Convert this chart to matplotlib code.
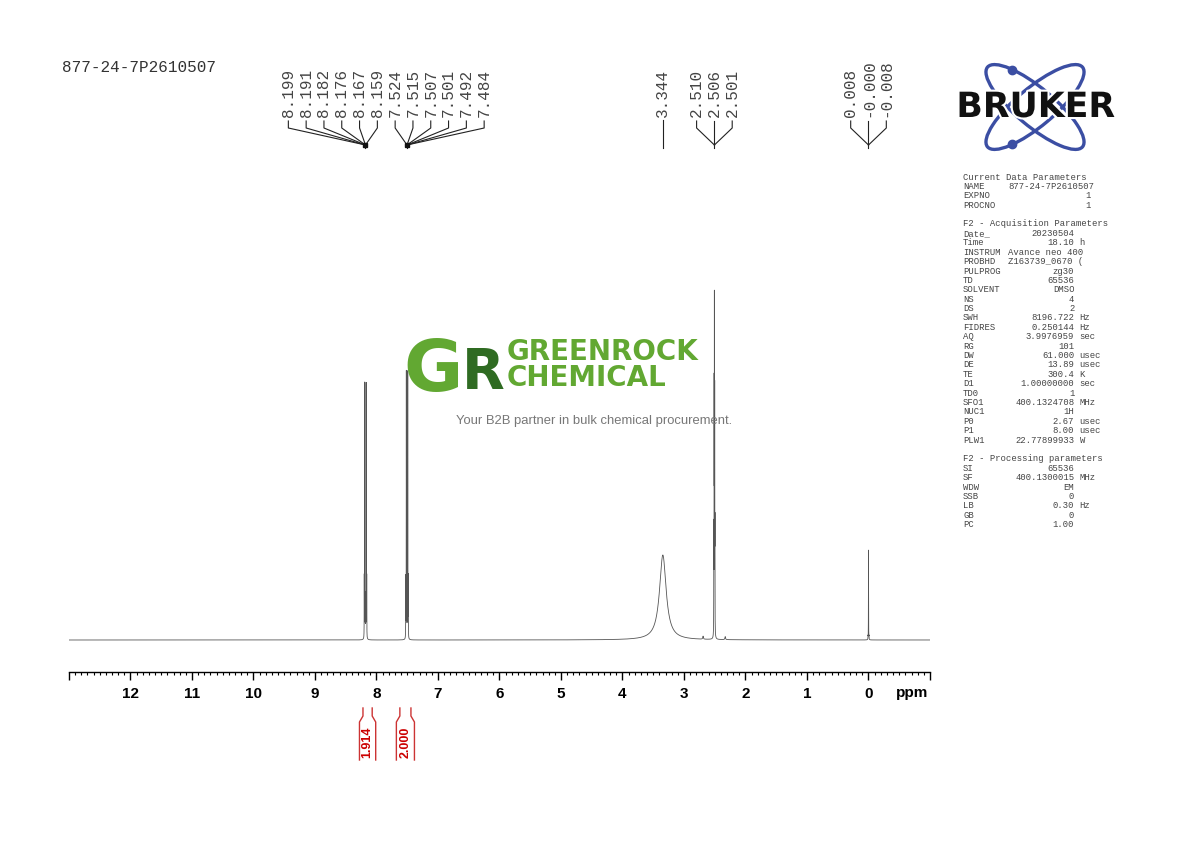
import numpy as np
import matplotlib.pyplot as plt
from matplotlib.patches import Ellipse
from matplotlib.ticker import MultipleLocator, FuncFormatter
from matplotlib.transforms import blended_transform_factory
import matplotlib.patheffects as pe

# peak list: position (ppm), height (px above baseline), half width (ppm)
peak_ppm = [8.199, 8.191, 8.182, 8.176, 8.167, 8.159,
            7.524, 7.515, 7.507, 7.501, 7.492, 7.484,
            3.344, 2.690, 2.330,
            2.515, 2.510, 2.506, 2.501, 2.497,
            0.008, 0.000, -0.008]
peak_height = [60, 255, 40, 40, 255, 60,
               60, 267, 40, 40, 267, 60,
               85, 3, 3,
               100, 230, 315, 230, 100,
               3, 90, 3]
peak_width = [0.0012] * 12 + [0.065, 0.006, 0.006] + [0.0012] * 5 + [0.0012] * 3

# peak labels, grouped by label cluster and multiplet
label_clusters = [
    [[8.199, 8.191, 8.182, 8.176, 8.167, 8.159],
     [7.524, 7.515, 7.507, 7.501, 7.492, 7.484]],
    [[3.344]],
    [[2.510, 2.506, 2.501]],
    [[0.008, -0.0, -0.008]],
]

integral_ranges = [(8.22, 8.07), (7.62, 7.44)]
integral_values = [1.914, 2.000]

title = "877-24-7P2610507"

params = [
    ("head", "Current Data Parameters"),
    ("NAME", "877-24-7P2610507", None),
    ("EXPNO", "1", None),
    ("PROCNO", "1", None),
    ("blank",),
    ("head", "F2 - Acquisition Parameters"),
    ("Date_", "20230504", ""),
    ("Time", "18.10", "h"),
    ("INSTRUM", "Avance neo 400", None),
    ("PROBHD", "Z163739_0670 (", None),
    ("PULPROG", "zg30", ""),
    ("TD", "65536", ""),
    ("SOLVENT", "DMSO", ""),
    ("NS", "4", ""),
    ("DS", "2", ""),
    ("SWH", "8196.722", "Hz"),
    ("FIDRES", "0.250144", "Hz"),
    ("AQ", "3.9976959", "sec"),
    ("RG", "101", ""),
    ("DW", "61.000", "usec"),
    ("DE", "13.89", "usec"),
    ("TE", "300.4", "K"),
    ("D1", "1.00000000", "sec"),
    ("TD0", "1", ""),
    ("SFO1", "400.1324708", "MHz"),
    ("NUC1", "1H", ""),
    ("P0", "2.67", "usec"),
    ("P1", "8.00", "usec"),
    ("PLW1", "22.77899933", "W"),
    ("blank",),
    ("head", "F2 - Processing parameters"),
    ("SI", "65536", ""),
    ("SF", "400.1300015", "MHz"),
    ("WDW", "EM", ""),
    ("SSB", "0", ""),
    ("LB", "0.30", "Hz"),
    ("GB", "0", ""),
    ("PC", "1.00", ""),
]

W, H = 1190, 842


def fy(ypix):
    return 1 - ypix / H


fig = plt.figure(figsize=(W / 100, H / 100), dpi=100)
ax = fig.add_axes([69 / W, fy(672), (930 - 69) / W, (672 - 60) / H])
ax.set_xlim(13, -1)
ax.set_ylim(-32, 580)
ppm_per_px = 14 / (930 - 69)

# spectrum
x = np.linspace(13, -1, 90001)
y = np.zeros_like(x)
for p, h, w in zip(peak_ppm, peak_height, peak_width):
    y += h / (1 + ((x - p) / w) ** 2)
ax.plot(x, y, color='#555555', lw=0.6)

for s in ['top', 'left', 'right']:
    ax.spines[s].set_visible(False)
ax.spines['bottom'].set_linewidth(1.0)
ax.set_yticks([])
ax.xaxis.set_major_locator(MultipleLocator(1))
ax.xaxis.set_minor_locator(MultipleLocator(0.1))
ax.xaxis.set_major_formatter(FuncFormatter(
    lambda v, _: '' if (v > 12.5 or v < -0.5) else f"{v:.0f}"))
ax.tick_params(axis='x', which='major', length=6, width=1, pad=5,
               labelsize=11)
ax.tick_params(axis='x', which='minor', length=2.2, width=0.8)
for lab in ax.get_xticklabels():
    lab.set_fontweight('bold')
    lab.set_fontfamily('Liberation Sans')
fig.text(912 / W, fy(693), "ppm", ha='center', va='center', fontsize=11,
         fontweight='bold', family='Liberation Sans')

# peak label trees
tr = blended_transform_factory(ax.transData, fig.transFigure)
spacing = 17.8 * ppm_per_px
for cluster in label_clusters:
    vals = [v for m in cluster for v in m]
    centre = np.mean([np.mean(m) for m in cluster])
    n = len(vals)
    xs = [centre + (n - 1) / 2 * spacing - i * spacing for i in range(n)]
    k = 0
    for m in cluster:
        jx = np.mean(m)
        for v in m:
            lx = xs[k]
            k += 1
            ax.text(lx, fy(117), f"{v:.3f}", transform=tr, rotation=90,
                    ha='center', va='bottom', fontsize=11.5,
                    family='Liberation Mono', color='#444444')
            if len(m) == 1:
                ax.plot([lx, lx], [fy(120), fy(148)], transform=tr,
                        color='#222222', lw=0.8, clip_on=False)
            else:
                ax.plot([lx, lx, jx], [fy(121), fy(128), fy(145)],
                        transform=tr, color='#222222', lw=0.8, clip_on=False)
        if len(m) > 1:
            ax.plot([jx, jx], [fy(145), fy(148)], transform=tr,
                    color='#222222', lw=0.8, clip_on=False)
        if len(m) > 4:
            ax.plot([jx], [fy(145)], transform=tr, marker='s', ms=3,
                    color='#111111', clip_on=False)

# integrals
fl = 3.5 * ppm_per_px
for (a, b), val in zip(integral_ranges, integral_values):
    ax.plot([a, a, a + fl, a + fl], [fy(708), fy(716), fy(722), fy(760)],
            transform=tr, color='#cc3333', lw=1, clip_on=False)
    ax.plot([b, b, b - fl, b - fl], [fy(708), fy(716), fy(722), fy(760)],
            transform=tr, color='#cc3333', lw=1, clip_on=False)
    ax.text((a + b) / 2, fy(742), f"{val:.3f}", transform=tr, rotation=90,
            ha='center', va='center', fontsize=9, fontweight='bold',
            family='Liberation Sans', color='#cc0000')

# title
fig.text(62 / W, fy(68), title, ha='left', va='center', fontsize=11.5,
         family='Liberation Mono', color='#333333')

# parameter block
ypix = 177
cw = 5.3
pkw = dict(va='center', fontsize=6.4, family='Liberation Mono',
           color='#444444')
for row in params:
    if row[0] == "blank":
        pass
    elif row[0] == "head":
        fig.text(963 / W, fy(ypix), row[1], ha='left', **pkw)
    else:
        name, val, unit = row
        fig.text(963 / W, fy(ypix), name, ha='left', **pkw)
        if unit is None:
            if len(val) > 10:
                fig.text(1008 / W, fy(ypix), val, ha='left', **pkw)
            else:
                fig.text((963 + 24 * cw) / W, fy(ypix), val, ha='right', **pkw)
        else:
            fig.text((963 + 21 * cw) / W, fy(ypix), val, ha='right', **pkw)
            if unit:
                fig.text((963 + 22 * cw) / W, fy(ypix), unit, ha='left', **pkw)
    ypix += 9.4

# Bruker logo
lax = fig.add_axes([955 / W, fy(155), 165 / W, 95 / H])
lax.set_xlim(955, 1120)
lax.set_ylim(155, 60)
lax.set_axis_off()
for ang in (40, -40):
    lax.add_patch(Ellipse((1035, 107), 124, 38, angle=ang, fill=False,
                          ec='#3b4ea3', lw=2.4))
lax.plot([1012, 1012], [70, 144], 'o', color='#3b4ea3', ms=6)
lax.text(1036, 107, "BRUKER", ha='center', va='center', fontsize=25,
         fontweight='bold', color='#111111',
         path_effects=[pe.withStroke(linewidth=3, foreground='white')])

# Greenrock watermark
fig.text(463 / W, fy(371), "G", ha='right', va='center', fontsize=52,
         fontweight='bold', color='#62a832', family='DejaVu Sans')
fig.text(462 / W, fy(373), "R", ha='left', va='center', fontsize=40,
         fontweight='bold', color='#2f6b22', family='DejaVu Sans')
fig.text(507 / W, fy(365), "GREENROCK\nCHEMICAL", ha='left', va='center',
         fontsize=20, fontweight='bold', color='#62a832',
         family='DejaVu Sans', linespacing=0.9)
fig.text(456 / W, fy(421), "Your B2B partner in bulk chemical procurement.",
         ha='left', va='center', fontsize=9.4, color='#777777',
         family='Liberation Sans')

fig.savefig("out.png", dpi=100)
